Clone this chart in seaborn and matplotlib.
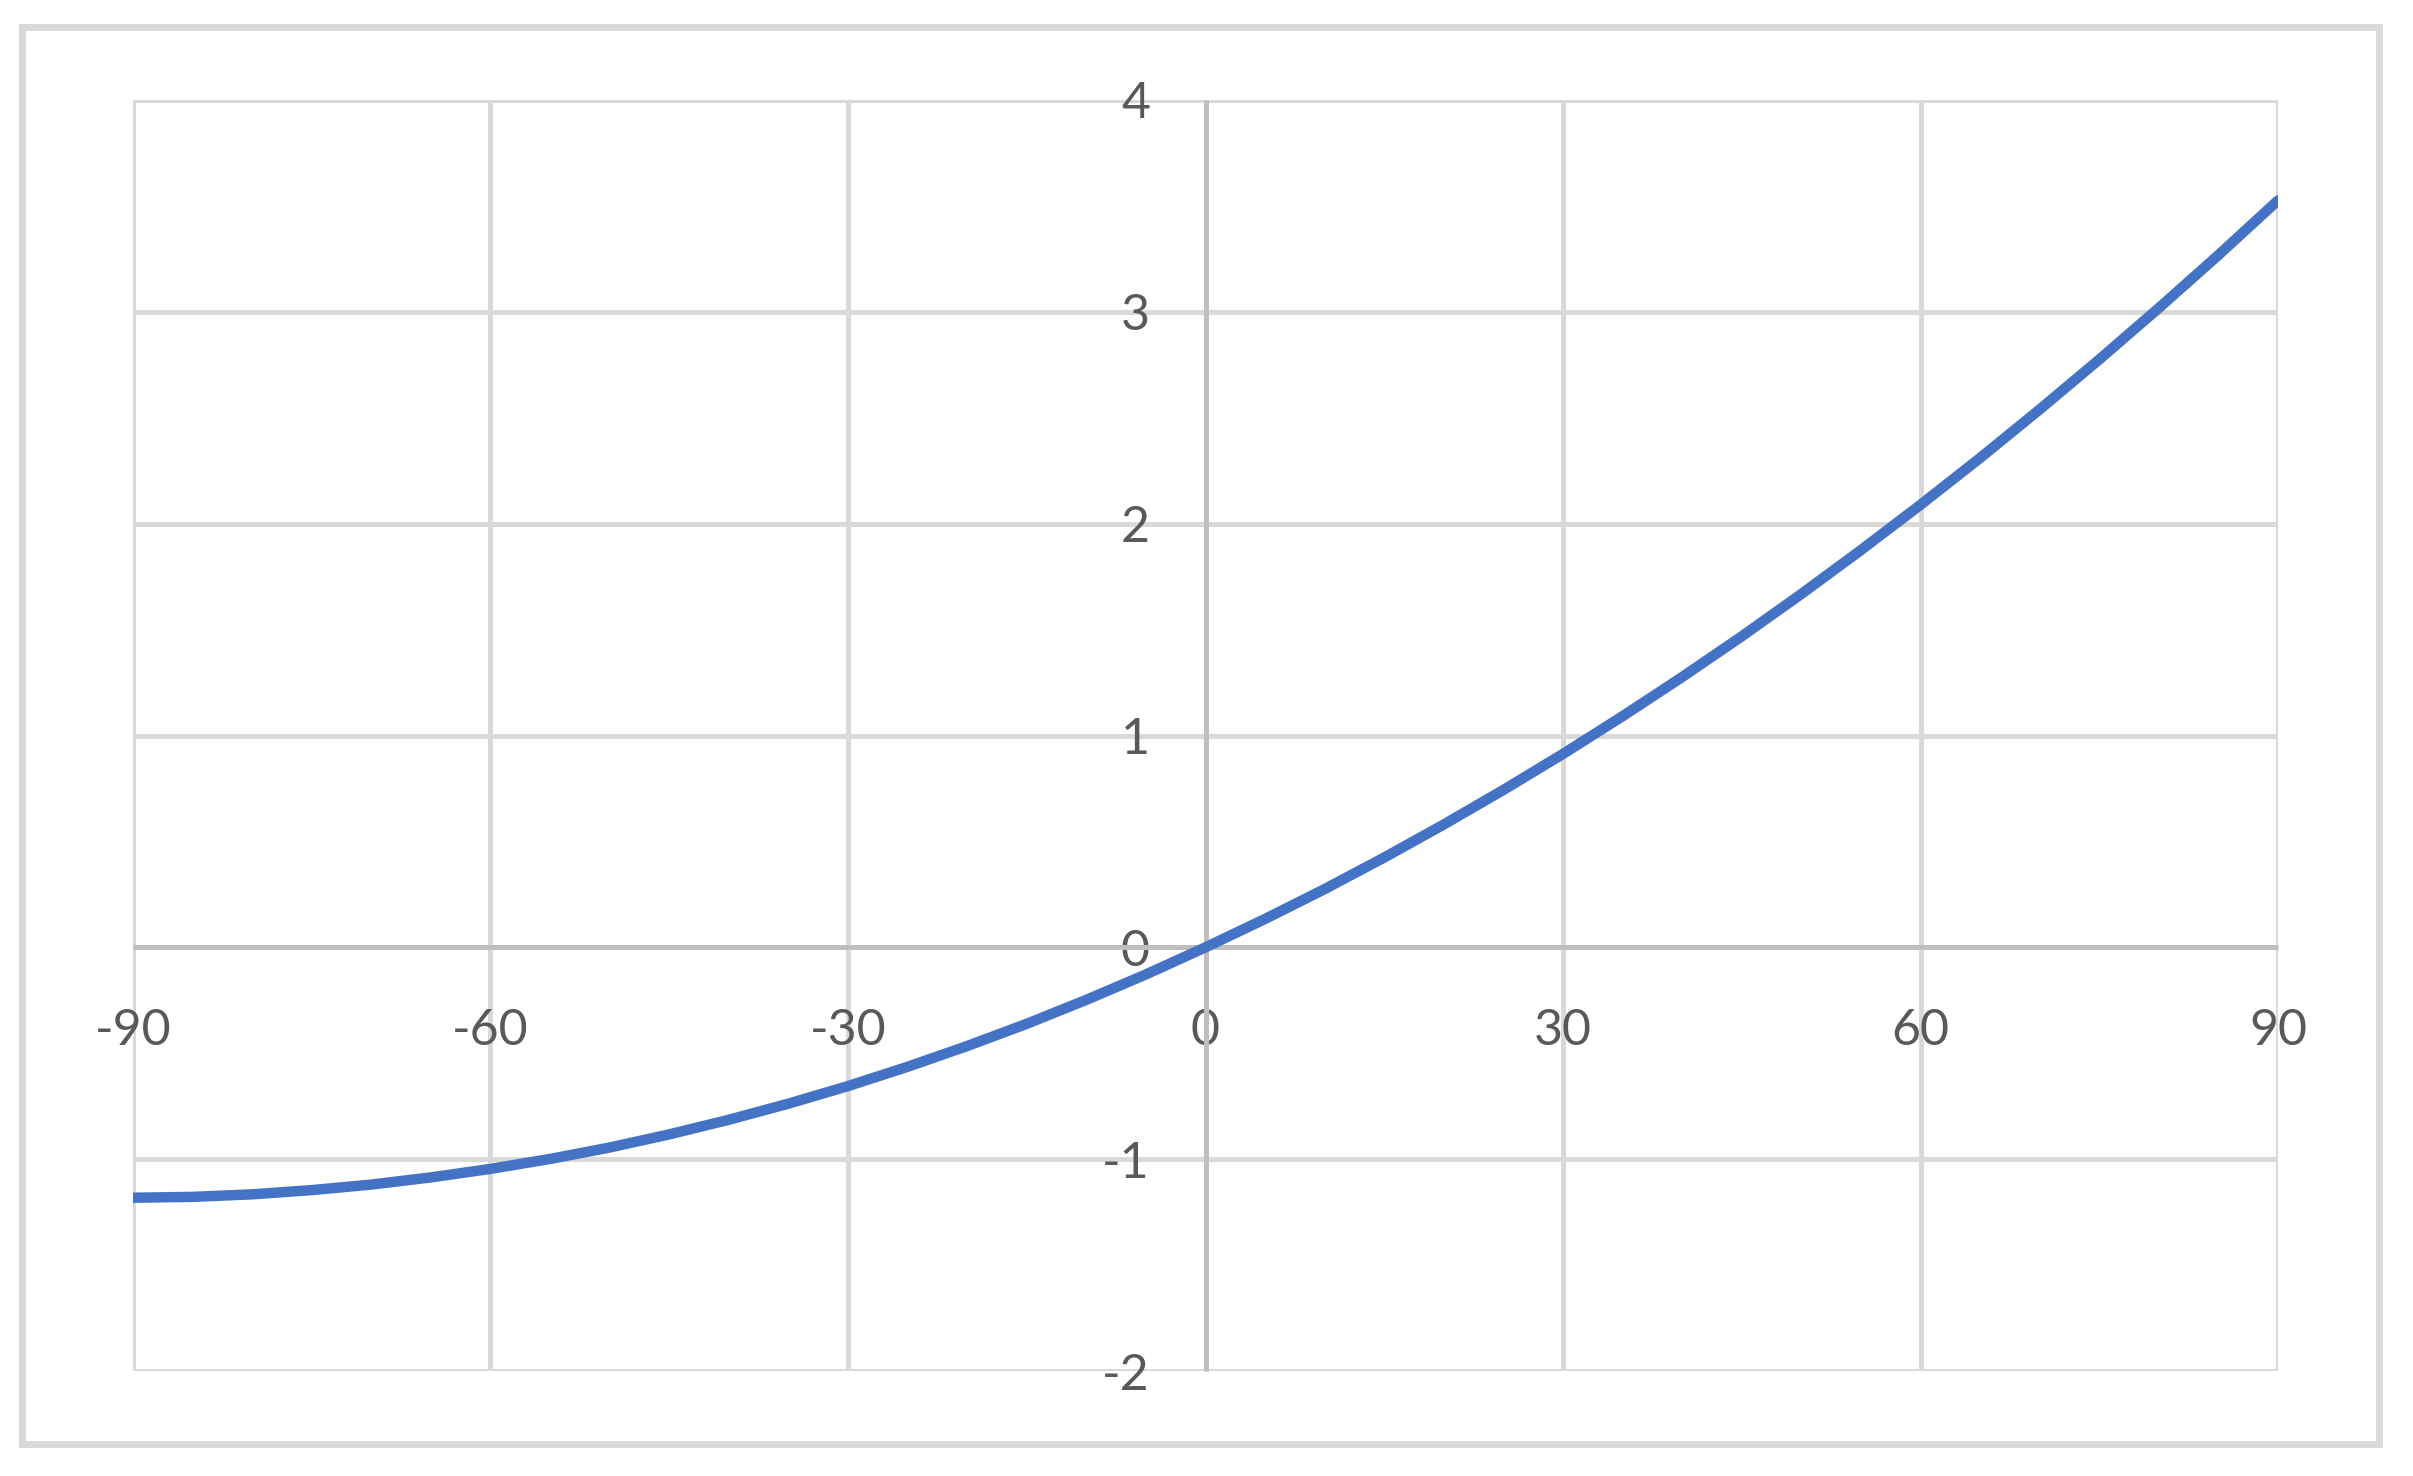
import matplotlib.pyplot as plt
import seaborn as sns
import pandas as pd
from matplotlib.patches import Rectangle

# data (angle in degrees -> value)
angles = [-90, -85, -80, -75, -70, -65, -60, -55, -50, -45, -40, -35, -30, -25, -20, -15, -10, -5,
          0, 5, 10, 15, 20, 25, 30, 35, 40, 45, 50, 55, 60, 65, 70, 75, 80, 85, 90]
values = [-1.182, -1.178, -1.166, -1.146, -1.120, -1.086, -1.046, -0.999, -0.945, -0.883,
          -0.814, -0.738, -0.655, -0.564, -0.466, -0.361, -0.248, -0.128,
          0.000, 0.134, 0.275, 0.424, 0.580, 0.743, 0.913, 1.091, 1.276, 1.468, 1.668, 1.875,
          2.089, 2.310, 2.539, 2.775, 3.018, 3.268, 3.526]
x_ticks = [-90, -60, -30, 0, 30, 60, 90]
y_ticks = [-2, -1, 0, 1, 2, 3, 4]

df = pd.DataFrame({'angle': angles, 'value': values})

sns.set_style("white")
plt.rcParams['font.family'] = ['Lato', 'DejaVu Sans']
plt.rcParams['axes.unicode_minus'] = False

W, H = 2413, 1476
fig = plt.figure(figsize=(W / 100, H / 100), dpi=100)
left, right, top, bottom = 133, 2278, 100, 1371
ax = fig.add_axes([left / W, 1 - bottom / H, (right - left) / W, (bottom - top) / H])

sns.lineplot(data=df, x='angle', y='value', color='#4472C4', linewidth=7.5, ax=ax, zorder=3,
             solid_joinstyle='round')

ax.set_xlim(-90, 90)
ax.set_ylim(-2, 4)
ax.set_xticks(x_ticks)
ax.set_yticks(y_ticks)
ax.set_xlabel('')
ax.set_ylabel('')

# gridlines
ax.grid(True, color='#d9d9d9', linewidth=3.6)
ax.set_axisbelow(True)

# axes crossing at zero
for side in ['top', 'right']:
    ax.spines[side].set_visible(False)
ax.spines['left'].set_position(('data', 0))
ax.spines['bottom'].set_position(('data', 0))
for side in ['left', 'bottom']:
    ax.spines[side].set_color('#bfbfbf')
    ax.spines[side].set_linewidth(3.6)
    ax.spines[side].set_capstyle('butt')
    ax.spines[side].set_zorder(2.5)

ax.tick_params(axis='both', length=0, labelsize=36, labelcolor='#595959')
ax.tick_params(axis='y', pad=40)
ax.tick_params(axis='x', pad=44)

# outer chart border
fig.patches.append(Rectangle((22 / W, 1 - 1444 / H), (2379 - 22) / W, (1444 - 27) / H,
                             transform=fig.transFigure, fill=False,
                             edgecolor='#d9d9d9', linewidth=5))

fig.savefig('out.png', dpi=100)
